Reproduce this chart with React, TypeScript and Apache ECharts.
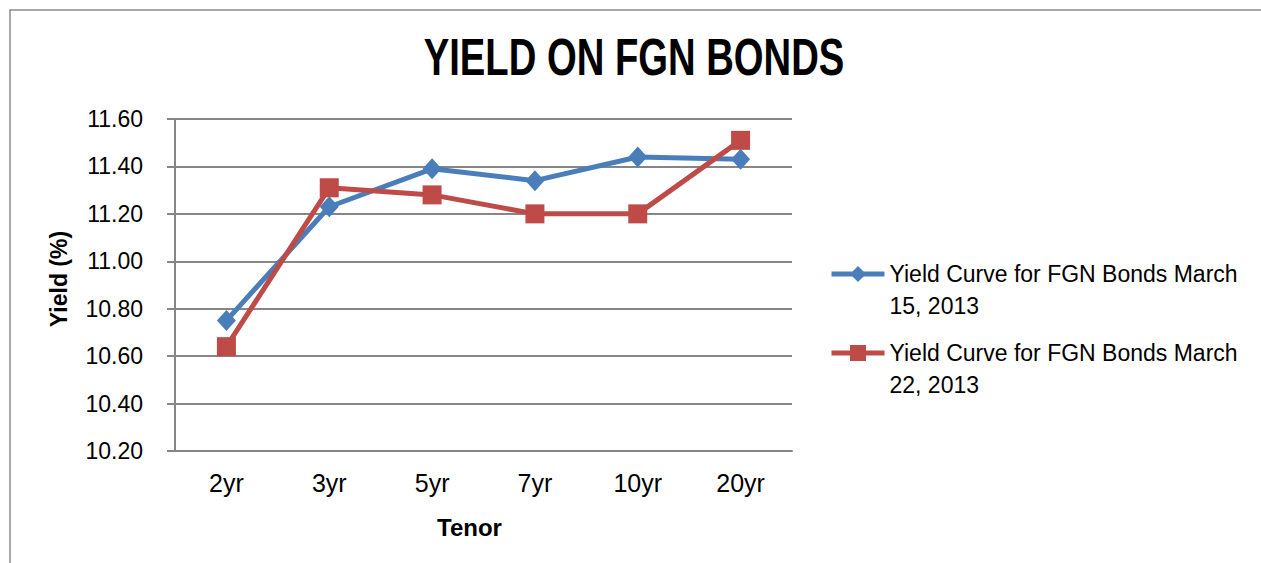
import React, { useEffect, useRef } from "react";
import * as echarts from "echarts";

const categories = ["2yr", "3yr", "5yr", "7yr", "10yr", "20yr"];
const seriesNames = [
  "Yield Curve for FGN Bonds March 15, 2013",
  "Yield Curve for FGN Bonds March 22, 2013",
];
const march15 = [10.75, 11.23, 11.39, 11.34, 11.44, 11.43];
const march22 = [10.64, 11.31, 11.28, 11.2, 11.2, 11.51];
const yMin = 10.2;
const yMax = 11.6;
const yStep = 0.2;
const titleText = "YIELD ON FGN BONDS";

const BLUE = "#4a7ebb";
const RED = "#be4b48";
const GRID = "#868686";

export default function App() {
  const ref = useRef<HTMLDivElement>(null);
  useEffect(() => {
    document.body.style.margin = "0";
    const chart = echarts.init(ref.current!, null, { renderer: "svg" });
    const legendText = {
      fontFamily: "Liberation Sans",
      fontSize: 23,
      color: "#000",
      lineHeight: 32,
    };
    // empty first line so that the icon lines up with the first text line
    const fmt = (name: string) => "\n" + name.replace(" March ", " March\n");
    const legendBase = {
      orient: "vertical",
      left: 829,
      padding: 0,
      itemWidth: 53,
      itemHeight: 20,
      itemGap: 0,
      formatter: fmt,
      textStyle: legendText,
      lineStyle: { width: 5 },
    };
    chart.setOption({
      animation: false,
      backgroundColor: "#fff",
      graphic: [
        {
          type: "rect",
          shape: { x: 10, y: 10, width: 1400, height: 700 },
          style: { fill: "none", stroke: "#8c8c8c", lineWidth: 1.5 },
          silent: true,
        },
        {
          type: "text",
          x: 634,
          y: 57,
          scaleX: 0.75,
          style: {
            text: titleText,
            fontFamily: "Liberation Sans",
            fontWeight: "bold",
            fontSize: 51,
            fill: "#000",
            textAlign: "center",
            textVerticalAlign: "middle",
          },
        },
      ],
      legend: [
        { ...legendBase, data: [seriesNames[0]], top: 226 },
        { ...legendBase, data: [seriesNames[1]], top: 305 },
      ],
      grid: { left: 175, right: 469, top: 119, bottom: 112 },
      xAxis: {
        type: "category",
        data: categories,
        boundaryGap: true,
        name: "Tenor",
        nameLocation: "middle",
        nameGap: 64,
        nameTextStyle: {
          fontFamily: "Liberation Sans",
          fontWeight: "bold",
          fontSize: 24,
          color: "#000",
          padding: [0, 28, 0, 0],
        },
        axisLine: { lineStyle: { color: GRID, width: 2 } },
        axisTick: { show: false },
        axisLabel: {
          margin: 19,
          fontFamily: "Liberation Sans",
          fontSize: 25,
          color: "#000",
        },
      },
      yAxis: {
        type: "value",
        min: yMin,
        max: yMax,
        interval: yStep,
        name: "Yield (%)",
        nameLocation: "middle",
        nameGap: 105,
        nameTextStyle: {
          fontFamily: "Liberation Sans",
          fontWeight: "bold",
          fontSize: 23,
          color: "#000",
          padding: [0, 0, 0, 12],
        },
        axisLine: { show: true, lineStyle: { color: GRID, width: 2 } },
        axisTick: { show: true, length: 8, lineStyle: { color: GRID, width: 2 } },
        splitLine: { lineStyle: { color: GRID, width: 2 } },
        axisLabel: {
          margin: 32,
          fontFamily: "Liberation Sans",
          fontSize: 23,
          color: "#000",
          formatter: (v: number) => v.toFixed(2),
        },
      },
      series: [
        {
          name: seriesNames[0],
          type: "line",
          data: march15,
          symbol: "diamond",
          symbolSize: [19, 21],
          lineStyle: { color: BLUE, width: 5 },
          itemStyle: { color: BLUE },
        },
        {
          name: seriesNames[1],
          type: "line",
          data: march22,
          symbol: "rect",
          symbolSize: 19,
          lineStyle: { color: RED, width: 5 },
          itemStyle: { color: RED },
        },
      ],
    });
    return () => chart.dispose();
  }, []);
  return (
    <div
      ref={ref}
      style={{ position: "absolute", left: 0, top: 0, width: 1261, height: 563 }}
    />
  );
}
